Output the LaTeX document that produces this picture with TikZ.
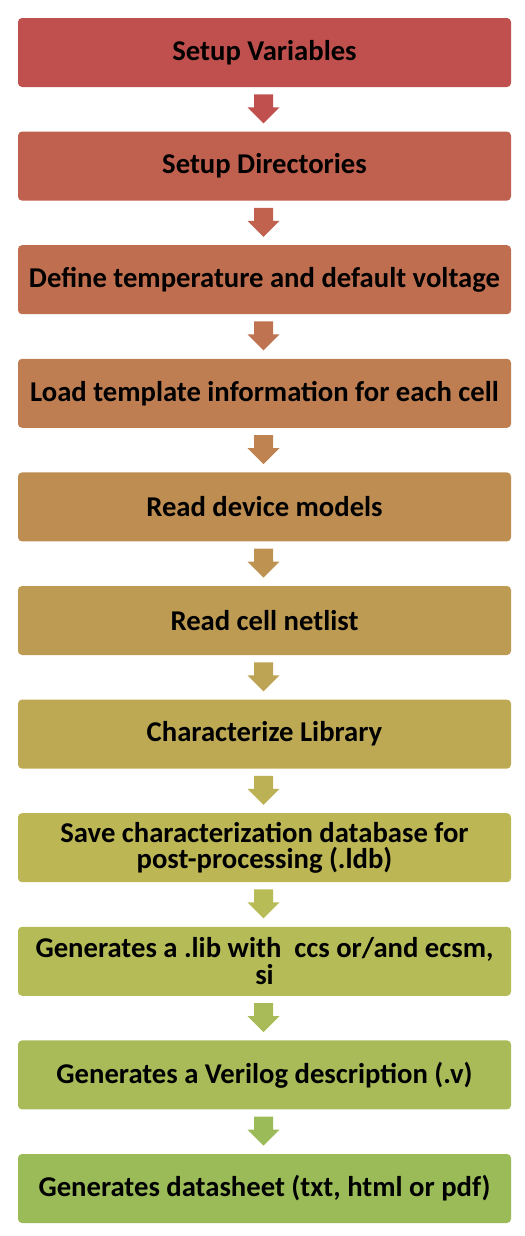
\documentclass[tikz,border=0pt]{standalone}
\usepackage{fontspec}
\setmainfont{Carlito}
\usetikzlibrary{calc}
\begin{document}
\begin{tikzpicture}[x=0.75pt,y=-0.75pt,
  stepbox/.style={rounded corners=3pt, minimum width=369.75pt, minimum height=51.75pt,
    inner sep=0pt, align=center, text=black,
    font=\bfseries\fontsize{21.5}{20}\selectfont}]
\useasboundingbox (0,0) rectangle (525,1236);
\foreach \i/\txt in {
  1/{Setup Variables},
  2/{Setup Directories},
  3/{Define temperature and default voltage},
  4/{Load template information for each cell},
  5/{Read device models},
  6/{Read cell netlist},
  7/{Characterize Library},
  8/{Save characterization database for\\post-processing (.ldb)},
  9/{Generates a .lib with\ \ ccs or/and ecsm,\\si},
  10/{Generates a Verilog description (.v)},
  11/{Generates datasheet (txt, html or pdf)}} {
  \pgfmathsetmacro{\tval}{(\i-1)/10}
  \pgfmathsetmacro{\hh}{1.57+78.03*\tval}
  \pgfmathsetmacro{\ss}{0.599-0.075*\tval}
  \pgfmathsetmacro{\vv}{0.753-0.020*\tval}
  \definecolor{tmpc}{Hsb}{\hh,\ss,\vv}
  \xglobal\colorlet{bc\i}[rgb]{tmpc}
  \pgfmathsetmacro{\yy}{52.5+113.6*(\i-1)}
  \node[stepbox, fill=bc\i] (b\i) at (264.5,\yy) {\txt};
}
\foreach \j in {1,...,10} {
  \pgfmathsetmacro{\tval}{(\j-1)/9}
  \pgfmathsetmacro{\hh}{1.57+78.03*\tval}
  \pgfmathsetmacro{\ss}{0.599-0.075*\tval}
  \pgfmathsetmacro{\vv}{0.753-0.020*\tval}
  \definecolor{tmpc}{Hsb}{\hh,\ss,\vv}
  \xglobal\colorlet{ac\j}[rgb]{tmpc}
  \fill[ac\j] ($(b\j.south)+(-10.5,7)$) -- ($(b\j.south)+(8.5,7)$)
    -- ($(b\j.south)+(8.5,20)$) -- ($(b\j.south)+(15,20)$)
    -- ($(b\j.south)+(-1,36)$) -- ($(b\j.south)+(-17,20)$)
    -- ($(b\j.south)+(-10.5,20)$) -- cycle;
}
\end{tikzpicture}
\end{document}
